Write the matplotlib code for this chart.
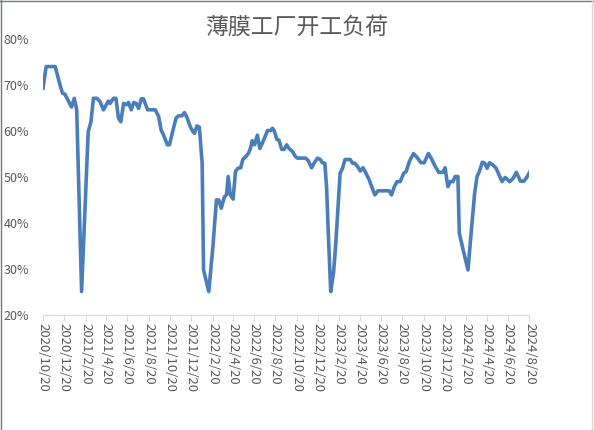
import numpy as np
import pandas as pd
import matplotlib
matplotlib.use('Agg')
import matplotlib.pyplot as plt
from matplotlib.ticker import FuncFormatter
from matplotlib.lines import Line2D

plt.rcParams['font.family'] = ['Noto Sans CJK SC', 'DejaVu Sans']

title = "薄膜工厂开工负荷"

# weekly load (%), turning points
dates = [
    "2020-10-20", "2020-10-29", "2020-11-24", "2020-12-08", "2020-12-15", "2020-12-22",
    "2021-01-10", "2021-01-18", "2021-01-25", "2021-02-08", "2021-02-27", "2021-03-07",
    "2021-03-14", "2021-03-24", "2021-04-02", "2021-04-12", "2021-04-26", "2021-05-01",
    "2021-05-11", "2021-05-18", "2021-05-25", "2021-06-01", "2021-06-09", "2021-06-18",
    "2021-06-23", "2021-07-01", "2021-07-08", "2021-07-15", "2021-07-22", "2021-07-30",
    "2021-08-05", "2021-08-17", "2021-09-08", "2021-09-18", "2021-09-25", "2021-10-02",
    "2021-10-13", "2021-10-19", "2021-10-29", "2021-11-07", "2021-11-14", "2021-11-24",
    "2021-12-01", "2021-12-08", "2021-12-18", "2021-12-26", "2021-12-30", "2022-01-06",
    "2022-01-13", "2022-01-21", "2022-01-25", "2022-02-09", "2022-02-21", "2022-03-03",
    "2022-03-10", "2022-03-17", "2022-03-26", "2022-04-01", "2022-04-06", "2022-04-12",
    "2022-04-20", "2022-04-27", "2022-05-04", "2022-05-12", "2022-05-18", "2022-05-26",
    "2022-06-03", "2022-06-09", "2022-06-14", "2022-06-21", "2022-06-29", "2022-07-06",
    "2022-07-13", "2022-07-23", "2022-07-28", "2022-08-06", "2022-08-11", "2022-08-16",
    "2022-08-24", "2022-08-30", "2022-09-07", "2022-09-14", "2022-09-21", "2022-09-28",
    "2022-10-08", "2022-10-17", "2022-10-22", "2022-11-15", "2022-11-22", "2022-12-02",
    "2022-12-09", "2022-12-19", "2022-12-27", "2023-01-02", "2023-01-09", "2023-01-14",
    "2023-01-19", "2023-01-26", "2023-02-03", "2023-02-09", "2023-02-22", "2023-03-01",
    "2023-03-08", "2023-03-23", "2023-03-30", "2023-04-05", "2023-04-13", "2023-04-21",
    "2023-04-29", "2023-05-07", "2023-05-17", "2023-05-26", "2023-06-02", "2023-06-11",
    "2023-07-13", "2023-07-20", "2023-07-28", "2023-08-05", "2023-08-14", "2023-08-24",
    "2023-08-31", "2023-09-09", "2023-09-21", "2023-10-03", "2023-10-13", "2023-10-22",
    "2023-11-03", "2023-11-11", "2023-11-22", "2023-12-03", "2023-12-14", "2023-12-21",
    "2023-12-29", "2024-01-05", "2024-01-13", "2024-01-19", "2024-01-27", "2024-01-31",
    "2024-02-10", "2024-02-25", "2024-03-05", "2024-03-15", "2024-03-22", "2024-03-29",
    "2024-04-06", "2024-04-13", "2024-04-20", "2024-04-27", "2024-05-07", "2024-05-16",
    "2024-06-02", "2024-06-11", "2024-06-24", "2024-07-04", "2024-07-13", "2024-07-25",
    "2024-08-04", "2024-08-14", "2024-08-20",
]
load = [
    69.3, 74.0, 74.0, 70.0, 68.2, 68.0,
    65.2, 67.1, 64.6, 25.1, 59.8, 62.0,
    67.1, 67.1, 66.4, 64.6, 66.5, 66.0,
    67.1, 67.1, 62.8, 62.0, 66.0, 65.7,
    66.2, 64.6, 66.2, 66.0, 64.9, 67.0,
    67.0, 64.6, 64.6, 63.1, 60.2, 59.1,
    57.0, 57.0, 60.2, 62.8, 63.3, 63.3,
    64.0, 63.0, 60.9, 59.8, 59.5, 61.1,
    60.8, 53.0, 29.8, 25.1, 34.9, 45.0,
    45.0, 43.2, 45.7, 46.1, 50.1, 46.1,
    45.2, 51.2, 51.9, 52.0, 53.8, 54.4,
    55.1, 56.2, 57.9, 57.0, 59.1, 56.2,
    57.3, 59.1, 60.1, 60.1, 60.6, 60.1,
    58.2, 58.0, 56.0, 56.0, 57.0, 56.2,
    55.5, 54.4, 54.1, 54.1, 53.6, 52.0,
    53.0, 54.1, 53.8, 53.1, 53.0, 47.9,
    37.8, 25.1, 29.1, 34.9, 50.8, 51.9,
    53.8, 53.8, 53.0, 53.0, 52.3, 51.3,
    52.0, 50.9, 49.3, 47.5, 46.1, 47.0,
    47.0, 46.1, 47.9, 49.0, 49.0, 50.8,
    51.2, 53.3, 55.1, 54.1, 53.1, 53.1,
    55.1, 54.1, 52.4, 51.0, 51.0, 52.0,
    47.9, 49.0, 49.0, 50.1, 50.1, 37.8,
    34.5, 29.8, 37.8, 46.4, 50.1, 51.2,
    53.2, 53.0, 51.9, 53.1, 52.6, 51.9,
    49.0, 49.9, 49.0, 49.7, 51.0, 49.1,
    49.1, 50.1, 51.0,
]

x = pd.to_datetime(dates)
y = np.array(load) / 100

tick_dates = pd.date_range("2020-10-01", "2024-08-01", freq="2MS") + pd.Timedelta(days=19)
tick_labels = [f"{d.year}/{d.month}/{d.day}" for d in tick_dates]

fig = plt.figure(figsize=(5.94, 4.30), dpi=100)
ax = fig.add_axes([0.0724, 0.2674, 0.819, 0.642])

ax.plot(x, y, color='#4a7ebb', lw=2.6, solid_joinstyle='round')

ax.set_ylim(0.2, 0.8)
ax.set_yticks([0.2, 0.3, 0.4, 0.5, 0.6, 0.7, 0.8])
ax.yaxis.set_major_formatter(FuncFormatter(lambda v, p: f"{v:.0%}"))
ax.set_xlim(tick_dates[0], tick_dates[-1])
ax.set_xticks(tick_dates)
ax.set_xticklabels(tick_labels, rotation=270, va='top', ha='center')

for s in ['top', 'right', 'left']:
    ax.spines[s].set_visible(False)
ax.spines['bottom'].set_color('#d9d9d9')
ax.tick_params(axis='y', length=0, labelsize=9, labelcolor='#595959', pad=10)
ax.tick_params(axis='x', length=4, color='#d9d9d9', labelsize=9.5,
               labelcolor='#595959', pad=2)

fig.text(0.5, 0.937, title, ha='center', va='center', fontsize=16.5, color='#595959')

# chart border
fig.add_artist(Line2D([0, 1], [0.998, 0.998], transform=fig.transFigure, color='#6f7f6f', lw=1))
fig.add_artist(Line2D([0.001, 0.001], [0, 1], transform=fig.transFigure, color='#6f7f6f', lw=1))
fig.add_artist(Line2D([0.997, 0.997], [0, 1], transform=fig.transFigure, color='#d9d9d9', lw=1))

plt.savefig("out.png", dpi=100)
